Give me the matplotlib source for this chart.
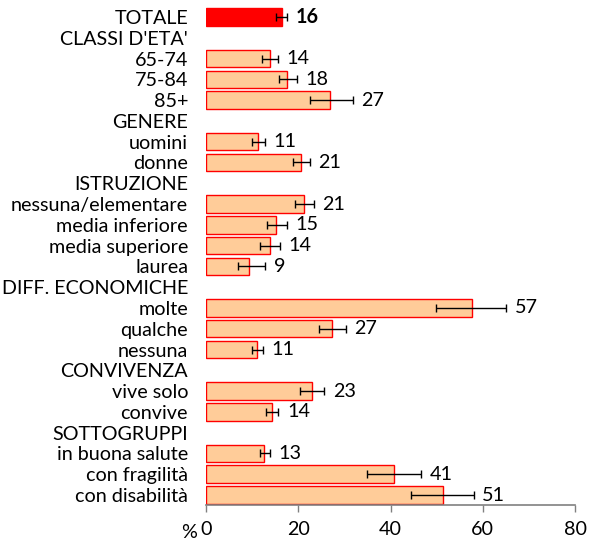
import matplotlib
matplotlib.use("Agg")
import matplotlib.pyplot as plt
import numpy as np

plt.rcParams['font.family'] = ['Lato', 'DejaVu Sans']

labels = ["TOTALE", "CLASSI D'ETA'", "65-74", "75-84", "85+", "GENERE", "uomini", "donne",
          "ISTRUZIONE", "nessuna/elementare", "media inferiore", "media superiore", "laurea",
          "DIFF. ECONOMICHE", "molte", "qualche", "nessuna", "CONVIVENZA", "vive solo", "convive",
          "SOTTOGRUPPI", "in buona salute", "con fragilità", "con disabilità"]
values = [16.5, None, 13.8, 17.5, 26.9, None, 11.3, 20.6,
          None, 21.2, 15.1, 13.8, 9.4, None, 57.7, 27.2, 11.0, None, 23.0, 14.3,
          None, 12.5, 40.7, 51.4]
ci_low = [15.2, None, 12.2, 15.8, 22.6, None, 9.9, 18.8,
          None, 19.2, 13.2, 11.7, 6.9, None, 49.8, 24.5, 9.9, None, 20.4, 13.0,
          None, 11.6, 35.0, 44.4]
ci_high = [17.5, None, 15.5, 19.7, 31.8, None, 12.8, 22.5,
           None, 23.4, 17.5, 16.0, 12.8, None, 65.0, 30.3, 12.3, None, 25.6, 15.7,
           None, 13.8, 46.7, 58.0]
value_labels = ["16", "", "14", "18", "27", "", "11", "21",
                "", "21", "15", "14", "9", "", "57", "27", "11", "", "23", "14",
                "", "13", "41", "51"]
xticks = [0, 20, 40, 60, 80]

fig = plt.figure(figsize=(5.99, 5.41), dpi=100)
ax = fig.add_axes([0.344, 0.0658, 0.616, 0.922])

n = len(labels)
ypos = np.arange(n)
fs = 14.2
for i in range(n):
    v = values[i]
    if v is None:
        continue
    total = (i == 0)
    ax.barh(ypos[i], v, height=0.84, color='#FF0000' if total else '#FFCC99',
            edgecolor='#FF0000', linewidth=1.0, zorder=2)
    ax.errorbar(v, ypos[i], xerr=[[v - ci_low[i]], [ci_high[i] - v]], fmt='none',
                ecolor='black', elinewidth=1.0, capsize=3, capthick=1.0, zorder=3)
    ax.annotate(value_labels[i], (max(v, ci_high[i]), ypos[i]), xytext=(6.2, 0),
                textcoords='offset points', va='center', ha='left', fontsize=fs,
                fontweight='bold' if total else 'normal', color='black')

ax.set_ylim(n - 0.5, -0.5)
ax.set_xlim(0, 80)
ax.set_yticks(ypos)
ax.set_yticklabels(labels, fontsize=fs)
ax.tick_params(axis='y', length=0, pad=13)
ax.set_xticks(xticks)
ax.set_xticklabels([str(t) for t in xticks], fontsize=fs)
ax.tick_params(axis='x', length=5, color='#808080', width=1, pad=6)
for s in ['top', 'right', 'left']:
    ax.spines[s].set_visible(False)
ax.spines['bottom'].set_color('#808080')
ax.spines['bottom'].set_linewidth(1.2)
fig.text(189 / 599, 1 - 532 / 541, "%", fontsize=fs, ha='center', va='center')

fig.savefig("out.png", dpi=100)
